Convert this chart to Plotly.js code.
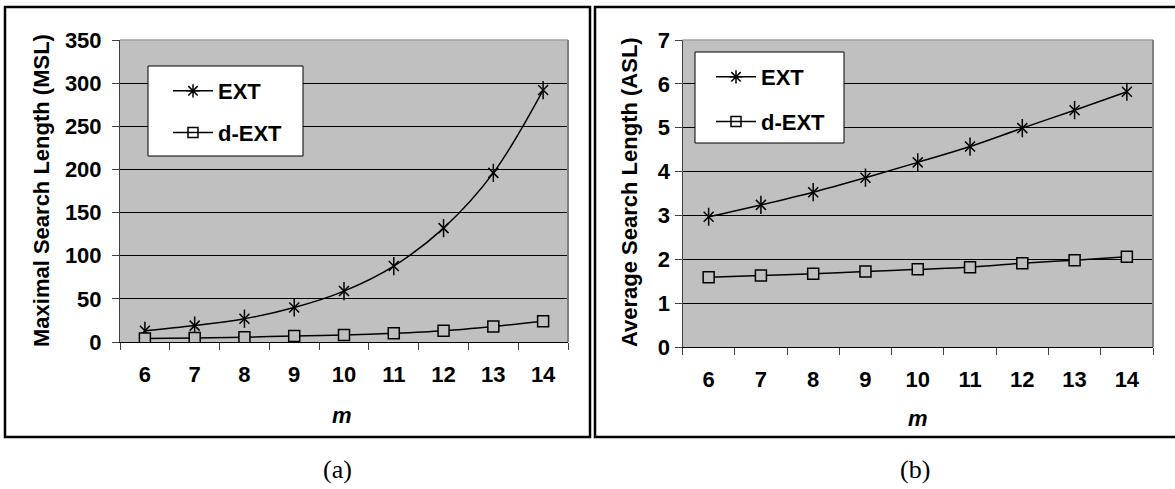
<!DOCTYPE html>
<html>
<head>
<meta charset="utf-8">
<script src="https://cdn.plot.ly/plotly-3.0.1.min.js"></script>
<style>
  html, body { margin: 0; padding: 0; background: #fff; }
  #chart { width: 1175px; height: 489px; }
</style>
</head>
<body>
<div id="chart"></div>
<script>
// Word length m (category axis)
const m = ['6', '7', '8', '9', '10', '11', '12', '13', '14'];

// (a) Maximal search length
const mslExt  = [13, 19, 27, 40, 59, 88, 132, 196, 292];
const mslDext = [4, 4.5, 5.5, 7, 8, 10, 13, 18, 24];

// (b) Average search length
const aslExt  = [2.97, 3.24, 3.53, 3.86, 4.21, 4.57, 4.99, 5.40, 5.82];
const aslDext = [1.59, 1.63, 1.67, 1.72, 1.77, 1.82, 1.91, 1.98, 2.06];

const seriesNames = ['EXT', 'd-EXT'];
const yTitles = ['Maximal Search Length (MSL)', 'Average Search Length (ASL)'];
const captions = ['(a)', '(b)'];

const W = 1175, H = 489;
const px = v => v / W;          // pixel -> paper x
const py = v => (H - v) / H;    // pixel -> paper y

const BLACK = '#000000';
const FONT = 'Liberation Sans, Arial, sans-serif';
const FS = 22;

function panelTraces(ext, dext, xa, ya, legendId) {
  const line = { color: BLACK, width: 1.5, shape: 'spline', smoothing: 1 };
  return [
    // EXT: smoothed line with a star marker (x plus vertical bar)
    { x: m, y: ext, xaxis: xa, yaxis: ya, mode: 'lines+markers', line,
      marker: { symbol: 'x-thin-open', size: 10, color: BLACK, line: { color: BLACK, width: 1.5 } },
      showlegend: false, hoverinfo: 'skip' },
    { x: m, y: ext, xaxis: xa, yaxis: ya, mode: 'markers',
      marker: { symbol: 'line-ns-open', size: 13, color: BLACK, line: { color: BLACK, width: 1.5 } },
      showlegend: false, hoverinfo: 'skip' },
    // d-EXT: smoothed line with square markers
    { x: m, y: dext, xaxis: xa, yaxis: ya, mode: 'lines+markers', line,
      marker: { symbol: 'square', size: 11, color: '#C0C0C0', line: { color: BLACK, width: 1.5 } },
      showlegend: false, hoverinfo: 'skip' },
    // legend entries
    { x: [null], y: [null], xaxis: xa, yaxis: ya, mode: 'lines+markers', name: seriesNames[0],
      legend: legendId, legendgroup: legendId + 'a',
      line: { color: BLACK, width: 1.5 },
      marker: { symbol: 'asterisk-open', size: 11, color: BLACK, line: { color: BLACK, width: 1.5 } } },
    { x: [null], y: [null], xaxis: xa, yaxis: ya, mode: 'lines+markers', name: seriesNames[1],
      legend: legendId, legendgroup: legendId + 'b',
      line: { color: BLACK, width: 1.5 },
      marker: { symbol: 'square-open', size: 10, color: BLACK, line: { color: BLACK, width: 1.5 } } }
  ];
}

const data = [
  ...panelTraces(mslExt, mslDext, 'x', 'y', 'legend'),
  ...panelTraces(aslExt, aslDext, 'x2', 'y2', 'legend2')
];

const tickFont = { family: FONT, size: FS, color: BLACK, weight: 'bold' };

function xAxis(domain, anchor) {
  return {
    domain, anchor, type: 'category', tickson: 'boundaries',
    range: [-0.5, m.length - 0.5], fixedrange: true,
    showline: true, linecolor: BLACK, linewidth: 1,
    ticks: 'outside', ticklen: 7, tickcolor: '#404040', tickwidth: 1,
    showgrid: false, tickfont: tickFont, ticklabelstandoff: 13
  };
}
function yAxis(domain, anchor, range, dtick, standoff) {
  return {
    domain, anchor, range, dtick, tick0: 0, fixedrange: true,
    showline: true, linecolor: '#404040', linewidth: 1,
    ticks: 'outside', ticklen: 7, tickcolor: '#404040', tickwidth: 1,
    showgrid: true, gridcolor: BLACK, gridwidth: 1, zeroline: false,
    tickfont: tickFont, ticklabelstandoff: standoff
  };
}

function plotFrame(xref, yref) {
  return [
    { type: 'line', xref: xref + ' domain', yref: yref + ' domain', x0: 0, x1: 1, y0: 1, y1: 1,
      line: { color: '#A0A0A0', width: 1.5 } },
    { type: 'line', xref: xref + ' domain', yref: yref + ' domain', x0: 1, x1: 1, y0: 0, y1: 1,
      line: { color: '#808080', width: 2 } }
  ];
}

function legendOpts(x, y, gap) {
  return {
    x, y, xanchor: 'left', yanchor: 'top',
    bgcolor: 'rgba(0,0,0,0)', borderwidth: 0,
    font: { family: FONT, size: FS, color: BLACK, weight: 'bold' },
    traceorder: 'grouped', tracegroupgap: gap, itemwidth: 40
  };
}

const annFont = { family: FONT, size: FS, color: BLACK, weight: 'bold' };
const capFont = { family: 'Liberation Serif, Times New Roman, serif', size: 26, color: BLACK };

function note(text, x, y, font, angle) {
  return { text, xref: 'paper', yref: 'paper', x: px(x), y: py(y),
    xanchor: 'center', yanchor: 'middle', textangle: angle || 0,
    showarrow: false, font };
}

const layout = {
  width: W, height: H,
  margin: { l: 0, r: 0, t: 0, b: 0 },
  paper_bgcolor: '#FFFFFF', plot_bgcolor: '#C0C0C0',
  showlegend: true,
  xaxis:  xAxis([px(120), px(568)], 'y'),
  yaxis:  yAxis([py(342), py(40)], 'x', [0, 350], 50, 6),
  xaxis2: xAxis([px(682.5), px(1153)], 'y2'),
  yaxis2: yAxis([py(347), py(40)], 'x2', [0, 7], 1, 0),
  legend:  legendOpts(px(168), py(70), 10),
  legend2: legendOpts(px(711), py(56), 13),
  shapes: [
    // outer panel frames
    { type: 'rect', xref: 'paper', yref: 'paper', x0: px(5), x1: px(590), y0: py(437), y1: py(7),
      line: { color: BLACK, width: 2.5 } },
    { type: 'rect', xref: 'paper', yref: 'paper', x0: px(595), x1: px(1178), y0: py(437), y1: py(7),
      line: { color: BLACK, width: 2.5 } },
    ...plotFrame('x', 'y'),
    ...plotFrame('x2', 'y2'),
    // legend boxes
    { type: 'rect', xref: 'paper', yref: 'paper', x0: px(148), x1: px(303), y0: py(156), y1: py(66),
      fillcolor: '#FFFFFF', line: { color: BLACK, width: 1 } },
    { type: 'rect', xref: 'paper', yref: 'paper', x0: px(695), x1: px(844), y0: py(143), y1: py(52),
      fillcolor: '#FFFFFF', line: { color: BLACK, width: 1 } }
  ],
  annotations: [
    note(yTitles[0], 41, 191, annFont, -90),
    note(yTitles[1], 630, 192, annFont, -90),
    note('<i>m</i>', 342, 415, annFont),
    note('<i>m</i>', 918, 418, annFont),
    note(captions[0], 337, 469, capFont),
    note(captions[1], 915, 469, capFont)
  ]
};

Plotly.newPlot('chart', data, layout, { staticPlot: true, displayModeBar: false });
</script>
</body>
</html>
